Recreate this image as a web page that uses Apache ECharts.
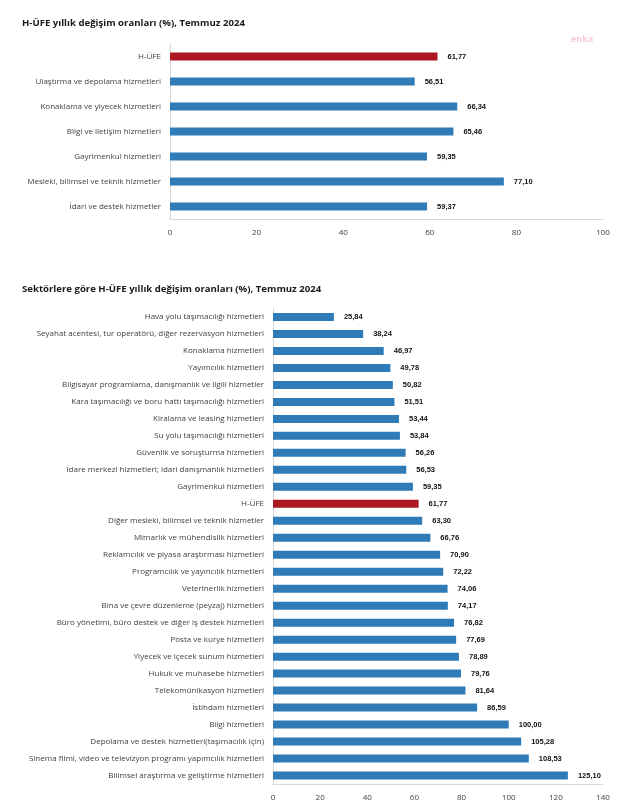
<!DOCTYPE html>
<html><head><meta charset="utf-8">
<script src="https://cdn.jsdelivr.net/npm/echarts@6/dist/echarts.min.js"></script>
<style>html,body{margin:0;padding:0;background:#fff;}#c{width:631px;height:806px;}</style>
</head><body><div id="c"></div>
<script>
const title1 = "H-ÜFE yıllık değişim oranları (%), Temmuz 2024";
const title2 = "Sektörlere göre H-ÜFE yıllık değişim oranları (%), Temmuz 2024";
const cats1 = ["H-ÜFE","Ulaştırma ve depolama hizmetleri","Konaklama ve yiyecek hizmetleri","Bilgi ve iletişim hizmetleri","Gayrimenkul hizmetleri","Mesleki, bilimsel ve teknik hizmetler","İdari ve destek hizmetler"];
const vals1 = [61.77,56.51,66.34,65.46,59.35,77.10,59.37];
const cats2 = ["Hava yolu taşımacılığı hizmetleri","Seyahat acentesi, tur operatörü, diğer rezervasyon hizmetleri","Konaklama hizmetleri","Yayımcılık hizmetleri","Bilgisayar programlama, danışmanlık ve ilgili hizmetler","Kara taşımacılığı ve boru hattı taşımacılığı hizmetleri","Kiralama ve leasing hizmetleri","Su yolu taşımacılığı hizmetleri","Güvenlik ve soruşturma hizmetleri","İdare merkezi hizmetleri; idari danışmanlık hizmetleri","Gayrimenkul hizmetleri","H-ÜFE","Diğer mesleki, bilimsel ve teknik hizmetler","Mimarlık ve mühendislik hizmetleri","Reklamcılık ve piyasa araştırması hizmetleri","Programcılık ve yayıncılık hizmetleri","Veterinerlik hizmetleri","Bina ve çevre düzenleme (peyzaj) hizmetleri","Büro yönetimi, büro destek ve diğer iş destek hizmetleri","Posta ve kurye hizmetleri","Yiyecek ve içecek sunum hizmetleri","Hukuk ve muhasebe hizmetleri","Telekomünikasyon hizmetleri","İstihdam hizmetleri","Bilgi hizmetleri","Depolama ve destek hizmetleri(taşımacılık için)","Sinema filmi, video ve televizyon programı yapımcılık hizmetleri","Bilimsel araştırma ve geliştirme hizmetleri"];
const vals2 = [25.84,38.24,46.97,49.78,50.82,51.51,53.44,53.84,56.26,56.53,59.35,61.77,63.30,66.76,70.90,72.22,74.06,74.17,76.82,77.69,78.89,79.76,81.64,86.59,100.00,105.28,108.53,125.10];
const ticks1 = {min:0,max:100,interval:20};
const ticks2 = {min:0,max:140,interval:20};
const highlight = "H-ÜFE";

const BLUE = "#2E7BB7", RED = "#AC1820";
const catFont = "'Open Sans', sans-serif";
function items(cats, vals){
  return vals.map((v,i)=>({value:v, itemStyle:{color: cats[i]===highlight?RED:BLUE}}));
}
function fmt(p){ return p.value.toFixed(2).replace('.', ','); }
const chart = echarts.init(document.getElementById('c'), null, {renderer:'canvas'});
const yAx = (cats, idx)=>({type:'category', gridIndex:idx, data:cats, inverse:true,
  axisLine:{show:true,lineStyle:{color:'#d9d9d9',width:1}}, axisTick:{show:false},
  axisLabel:{color:'#404040', fontSize:8, fontFamily:catFont, margin:9}});
const xAx = (t, idx)=>({type:'value', gridIndex:idx, min:t.min, max:t.max, interval:t.interval,
  splitLine:{show:false}, axisLine:{show:true,lineStyle:{color:'#d9d9d9',width:1}}, axisTick:{show:false},
  axisLabel:{color:'#404040', fontSize:8, fontFamily:catFont, margin:10}});
const lbl = {show:true, position:'right', distance:10, formatter:fmt, color:'#111', fontSize:7.5, fontWeight:'bold', fontFamily:"'Liberation Sans', Arial, sans-serif"};
chart.setOption({
  animation:false,
  title:[
    {text:title1, left:17, top:13, textStyle:{fontSize:9.6, fontWeight:'bold', color:'#1a1a1a', fontFamily:catFont}},
    {text:title2, left:17, top:279, textStyle:{fontSize:9.6, fontWeight:'bold', color:'#1a1a1a', fontFamily:catFont}},
    {text:'enka', left:566, top:30, textStyle:{fontSize:9, fontWeight:'bold', color:'#f7cdd4', fontFamily:catFont}}
  ],
  grid:[
    {left:170, top:44, width:433, height:175},
    {left:273, top:308.5, width:330, height:475.5}
  ],
  xAxis:[xAx(ticks1,0), xAx(ticks2,1)],
  yAxis:[yAx(cats1,0), yAx(cats2,1)],
  series:[
    {type:'bar', xAxisIndex:0, yAxisIndex:0, data:items(cats1,vals1), barWidth:8, label:lbl},
    {type:'bar', xAxisIndex:1, yAxisIndex:1, data:items(cats2,vals2), barWidth:8, label:lbl}
  ]
});
</script></body></html>
